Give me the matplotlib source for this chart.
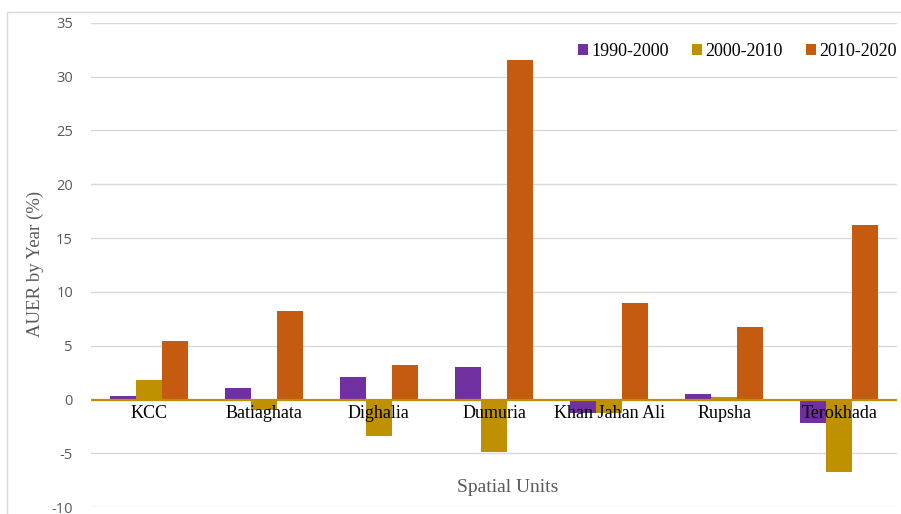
import matplotlib
matplotlib.use("Agg")
import matplotlib.pyplot as plt
from matplotlib.patches import Rectangle, Patch
import numpy as np

units = ["KCC", "Batiaghata", "Dighalia", "Dumuria", "Khan Jahan Ali", "Rupsha", "Terokhada"]
periods = ["1990-2000", "2000-2010", "2010-2020"]
auer_1990_2000 = [0.30, 1.05, 2.07, 3.03, -1.24, 0.56, -2.20]
auer_2000_2010 = [1.83, -1.00, -3.40, -4.90, -1.24, 0.20, -6.75]
auer_2010_2020 = [5.45, 8.20, 3.25, 31.50, 9.00, 6.78, 16.25]
y_ticks = [-10, -5, 0, 5, 10, 15, 20, 25, 30, 35]

colors = ["#7030A0", "#BF9000", "#C55A11"]
series = [auer_1990_2000, auer_2000_2010, auer_2010_2020]

W, H = 901, 514
fig = plt.figure(figsize=(W / 100, H / 100), dpi=100)
ax = fig.add_axes([91 / W, 1 - 507.3 / H, (897 - 91) / W, (507.3 - 22.7) / H])

# outer chart border
fig.patches.append(Rectangle((7 / W, -0.05), 1.1, 1 - 11.7 / H + 0.05,
                             transform=fig.transFigure, fill=False,
                             edgecolor="#D9D9D9", linewidth=1.0, zorder=0))

x = np.arange(len(units))
bw = 0.226
for k, (vals, c) in enumerate(zip(series, colors)):
    ax.bar(x + (k - 1) * bw, vals, width=bw, color=c, edgecolor="none",
           zorder=2, label=periods[k])

ax.set_xlim(-0.5, len(units) - 0.5)
ax.set_ylim(-10, 35)
ax.set_yticks(y_ticks)
ax.set_yticklabels([str(v) for v in y_ticks], fontsize=10.5, color="#595959",
                   family="Open Sans")
ax.tick_params(axis="y", length=0, pad=13)
ax.set_xticks([])
ax.yaxis.grid(True, color="#D9D9D9", linewidth=1.0, zorder=0)
ax.set_axisbelow(True)
for s in ax.spines.values():
    s.set_visible(False)

# zero axis line
ax.axhline(0, color="#BF9000", linewidth=1.6, zorder=3)

# category labels just under the zero line, drawn over the bars
for i, name in enumerate(units):
    ax.annotate(name, (i, 0), xytext=(0, -4), textcoords="offset points",
                ha="center", va="top", fontsize=13, family="Liberation Serif",
                color="black", zorder=5)

fig.text(35 / W, 1 - 264 / H, "AUER by Year (%)", rotation=90, ha="center",
         va="center", fontsize=13.5, family="Liberation Serif", color="#595959")
fig.text(508 / W, 1 - 487 / H, "Spatial Units", ha="center", va="center",
         fontsize=14, family="Liberation Serif", color="#595959")

handles = [Patch(facecolor=c, edgecolor="none") for c in colors]
leg = fig.legend(handles, periods, loc="center right",
                 bbox_to_anchor=(897 / W, 1 - 51 / H),
                 ncol=3, frameon=False, handlelength=0.55, handleheight=0.55,
                 handletextpad=0.22, columnspacing=1.25, borderpad=0,
                 borderaxespad=0,
                 prop={"family": "Liberation Serif", "size": 13})

fig.savefig("out.png", dpi=100, facecolor="white")
